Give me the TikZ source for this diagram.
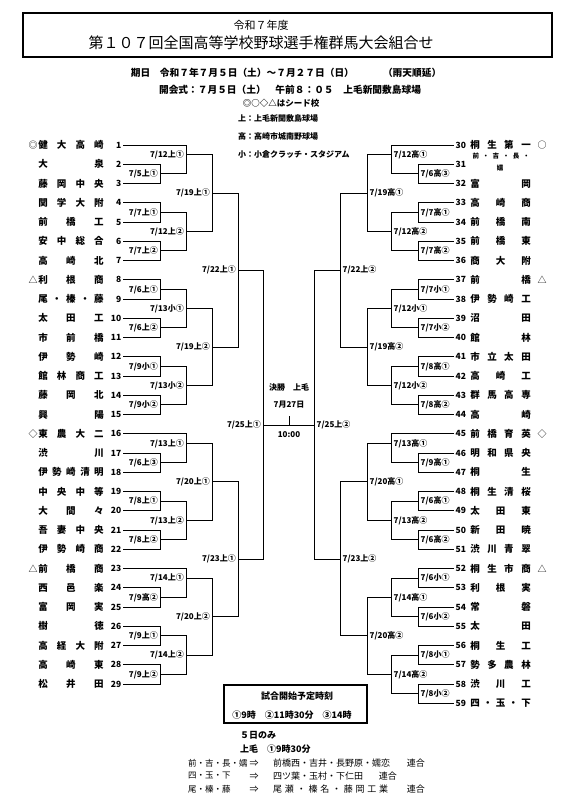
\documentclass[tikz,border=0pt]{standalone}
\usepackage{fontspec}
\setmainfont{Noto Sans CJK JP}
\newcommand\TL[2]{%
  \pgfmathsetmacro\yy{145+(#1-1)*19.25}%
  \node[num,anchor=east] (n#1) at (122,\yy) {#1};%
  \coordinate (e#1) at (123,\yy);%
  \node[tname] (t#1) at (71,\yy) {\makebox[65.5pt][s]{#2}};%
}
\newcommand\TR[2]{%
  \pgfmathsetmacro\yy{145+(#1-30)*19.25}%
  \node[num,anchor=west] (n#1) at (455,\yy) {#1};%
  \coordinate (e#1) at (454,\yy);%
  \node[tname] (t#1) at (500.5,\yy) {\makebox[60.5pt][s]{#2}};%
}
\newcommand\ML[6]{%
  \coordinate (#1) at (#2,#3);%
  \draw[br] (#4) -- (#4 -| #1) -- (#5 -| #1) -- (#5);%
  \node[lab,anchor=east] (#1l) at ([xshift=-1.5pt]#1) {#6};%
}
\newcommand\MR[6]{%
  \coordinate (#1) at (#2,#3);%
  \draw[br] (#4) -- (#4 -| #1) -- (#5 -| #1) -- (#5);%
  \node[lab,anchor=west] (#1l) at ([xshift=2pt]#1) {#6};%
}
\begin{document}
\begin{tikzpicture}[x=1pt,y=-1pt,
  br/.style={line width=0.95pt, line join=miter},
  lab/.style={font=\bfseries\fontsize{8}{9}\selectfont, inner sep=0.5pt},
  num/.style={font=\bfseries\fontsize{8.5}{9}\selectfont, inner sep=0.5pt},
  tname/.style={font=\bfseries\fontsize{9.5}{10}\selectfont, inner sep=0pt},
  seedm/.style={font=\fontsize{9}{10}\selectfont, inner sep=0pt},
  hdr/.style={font=\bfseries\fontsize{9.7}{11}\selectfont, inner sep=0pt},
  small/.style={font=\bfseries\fontsize{8}{9}\selectfont, inner sep=0pt},
  boxt/.style={font=\bfseries\fontsize{9}{10}\selectfont, inner sep=0pt},
  foot/.style={font=\fontsize{9}{10}\selectfont, inner sep=0pt},
  footl/.style={font=\fontsize{8.5}{10}\selectfont, inner sep=0pt}]
\useasboundingbox (0,0) rectangle (575,800);
% header
\node[draw, line width=1.3pt, minimum width=529pt, minimum height=44pt, inner sep=0pt] (hbox) at (287.5,35) {};
\node[font=\fontsize{11}{12}\selectfont, inner sep=0pt] (h1) at (261,25) {令和７年度};
\node[font=\fontsize{15}{16}\selectfont, inner sep=0pt] (h2) at (261,43) {第１０７回全国高等学校野球選手権群馬大会組合せ};
\node[hdr] (h3) at (286,73) {期日　令和７年７月５日（土）～７月２７日（日）　　　（雨天順延）};
\node[hdr] (h4) at (290,90) {開会式：７月５日（土）　午前８：０５　上毛新聞敷島球場};
\node[font=\bfseries\fontsize{8.5}{9}\selectfont, inner sep=0pt] (h5) at (281,103) {◎○◇△はシード校};
\node[small,anchor=west] (v1) at (238,118) {上：上毛新聞敷島球場};
\node[small,anchor=west] (v2) at (238,136) {高：高崎市城南野球場};
\node[small,anchor=west] (v3) at (238,154) {小：小倉クラッチ・スタジアム};
% left teams
\TL{1}{健\hfill 大\hfill 高\hfill 崎}
\TL{2}{大\hfill 泉}
\TL{3}{藤\hfill 岡\hfill 中\hfill 央}
\TL{4}{関\hfill 学\hfill 大\hfill 附}
\TL{5}{前\hfill 橋\hfill 工}
\TL{6}{安\hfill 中\hfill 総\hfill 合}
\TL{7}{高\hfill 崎\hfill 北}
\TL{8}{利\hfill 根\hfill 商}
\TL{9}{尾\hfill ・\hfill 榛\hfill ・\hfill 藤}
\TL{10}{太\hfill 田\hfill 工}
\TL{11}{市\hfill 前\hfill 橋}
\TL{12}{伊\hfill 勢\hfill 崎}
\TL{13}{館\hfill 林\hfill 商\hfill 工}
\TL{14}{藤\hfill 岡\hfill 北}
\TL{15}{興\hfill 陽}
\TL{16}{東\hfill 農\hfill 大\hfill 二}
\TL{17}{渋\hfill 川}
\TL{18}{伊\hfill 勢\hfill 崎\hfill 清\hfill 明}
\TL{19}{中\hfill 央\hfill 中\hfill 等}
\TL{20}{大\hfill 間\hfill 々}
\TL{21}{吾\hfill 妻\hfill 中\hfill 央}
\TL{22}{伊\hfill 勢\hfill 崎\hfill 商}
\TL{23}{前\hfill 橋\hfill 商}
\TL{24}{西\hfill 邑\hfill 楽}
\TL{25}{富\hfill 岡\hfill 実}
\TL{26}{樹\hfill 徳}
\TL{27}{高\hfill 経\hfill 大\hfill 附}
\TL{28}{高\hfill 崎\hfill 東}
\TL{29}{松\hfill 井\hfill 田}
\node[seedm] (s1) at (33,145) {◎};
\node[seedm] (s8) at (33,279.75) {△};
\node[seedm] (s16) at (33,433.75) {◇};
\node[seedm] (s23) at (33,568.5) {△};
% right teams
\TR{30}{桐\hfill 生\hfill 第\hfill 一}
\pgfmathsetmacro\yy{145+19.25}
\node[num,anchor=west] (n31) at (455,\yy) {31};
\coordinate (e31) at (454,\yy);
\node[font=\bfseries\fontsize{6.5}{7}\selectfont, inner sep=0pt] (t31a) at (501,156.5) {\makebox[57pt][s]{前\hfill ・\hfill 吉\hfill ・\hfill 長\hfill ・}};
\node[font=\bfseries\fontsize{6.5}{7}\selectfont, inner sep=0pt] (t31b) at (500,168) {嬬};
\TR{32}{富\hfill 岡}
\TR{33}{高\hfill 崎\hfill 商}
\TR{34}{前\hfill 橋\hfill 南}
\TR{35}{前\hfill 橋\hfill 東}
\TR{36}{商\hfill 大\hfill 附}
\TR{37}{前\hfill 橋}
\TR{38}{伊\hfill 勢\hfill 崎\hfill 工}
\TR{39}{沼\hfill 田}
\TR{40}{館\hfill 林}
\TR{41}{市\hfill 立\hfill 太\hfill 田}
\TR{42}{高\hfill 崎\hfill 工}
\TR{43}{群\hfill 馬\hfill 高\hfill 専}
\TR{44}{高\hfill 崎}
\TR{45}{前\hfill 橋\hfill 育\hfill 英}
\TR{46}{明\hfill 和\hfill 県\hfill 央}
\TR{47}{桐\hfill 生}
\TR{48}{桐\hfill 生\hfill 清\hfill 桜}
\TR{49}{太\hfill 田\hfill 東}
\TR{50}{新\hfill 田\hfill 暁}
\TR{51}{渋\hfill 川\hfill 青\hfill 翠}
\TR{52}{桐\hfill 生\hfill 市\hfill 商}
\TR{53}{利\hfill 根\hfill 実}
\TR{54}{常\hfill 磐}
\TR{55}{太\hfill 田}
\TR{56}{桐\hfill 生\hfill 工}
\TR{57}{勢\hfill 多\hfill 農\hfill 林}
\TR{58}{渋\hfill 川\hfill 工}
\TR{59}{四\hfill ・\hfill 玉\hfill ・\hfill 下}
\node[seedm] (s30) at (542,145) {○};
\node[seedm] (s37) at (542,279.75) {△};
\node[seedm] (s45) at (542,433.75) {◇};
\node[seedm] (s52) at (542,568.5) {△};
% left bracket
\ML{a1}{160}{173.9}{e2}{e3}{7/5上①}
\ML{a2}{160}{212.4}{e4}{e5}{7/7上①}
\ML{a3}{160}{250.9}{e6}{e7}{7/7上②}
\ML{a4}{160}{289.4}{e8}{e9}{7/6上①}
\ML{a5}{160}{327.9}{e10}{e11}{7/6上②}
\ML{a6}{160}{366.4}{e12}{e13}{7/9小①}
\ML{a7}{160}{404.9}{e14}{e15}{7/9小②}
\ML{a8}{160}{462.6}{e17}{e18}{7/6上③}
\ML{a9}{160}{501.1}{e19}{e20}{7/8上①}
\ML{a10}{160}{539.6}{e21}{e22}{7/8上②}
\ML{a11}{160}{597.4}{e24}{e25}{7/9高②}
\ML{a12}{160}{635.9}{e26}{e27}{7/9上①}
\ML{a13}{160}{674.4}{e28}{e29}{7/9上②}
\ML{b1}{186}{154.6}{e1}{a1}{7/12上①}
\ML{b2}{186}{231.6}{a2}{a3}{7/12上②}
\ML{b3}{186}{308.6}{a4}{a5}{7/13小①}
\ML{b4}{186}{385.6}{a6}{a7}{7/13小②}
\ML{b5}{186}{443.4}{e16}{a8}{7/13上①}
\ML{b6}{186}{520.4}{a9}{a10}{7/13上②}
\ML{b7}{186}{578.1}{e23}{a11}{7/14上①}
\ML{b8}{186}{655.1}{a12}{a13}{7/14上②}
\ML{c1}{212}{193.1}{b1}{b2}{7/19上①}
\ML{c2}{212}{347.1}{b3}{b4}{7/19上②}
\ML{c3}{212}{481.9}{b5}{b6}{7/20上①}
\ML{c4}{212}{616.6}{b7}{b8}{7/20上②}
\ML{d1}{238}{270.1}{c1}{c2}{7/22上①}
\ML{d2}{238}{559}{c3}{c4}{7/23上①}
\ML{f1}{263}{425}{d1}{d2}{7/25上①}
% right bracket
\MR{A1}{418}{173.9}{e31}{e32}{7/6高③}
\MR{A2}{418}{212.4}{e33}{e34}{7/7高①}
\MR{A3}{418}{250.9}{e35}{e36}{7/7高②}
\MR{A4}{418}{289.4}{e37}{e38}{7/7小①}
\MR{A5}{418}{327.9}{e39}{e40}{7/7小②}
\MR{A6}{418}{366.4}{e41}{e42}{7/8高①}
\MR{A7}{418}{404.9}{e43}{e44}{7/8高②}
\MR{A8}{418}{462.6}{e46}{e47}{7/9高①}
\MR{A9}{418}{501.1}{e48}{e49}{7/6高①}
\MR{A10}{418}{539.6}{e50}{e51}{7/6高②}
\MR{A11}{418}{578.1}{e52}{e53}{7/6小①}
\MR{A12}{418}{616.6}{e54}{e55}{7/6小②}
\MR{A13}{418}{655.1}{e56}{e57}{7/8小①}
\MR{A14}{418}{693.6}{e58}{e59}{7/8小②}
\MR{B1}{391}{154.6}{e30}{A1}{7/12高①}
\MR{B2}{391}{231.6}{A2}{A3}{7/12高②}
\MR{B3}{391}{308.6}{A4}{A5}{7/12小①}
\MR{B4}{391}{385.6}{A6}{A7}{7/12小②}
\MR{B5}{391}{443.4}{e45}{A8}{7/13高①}
\MR{B6}{391}{520.4}{A9}{A10}{7/13高②}
\MR{B7}{391}{597.4}{A11}{A12}{7/14高①}
\MR{B8}{391}{674.4}{A13}{A14}{7/14高②}
\MR{C1}{367}{193.1}{B1}{B2}{7/19高①}
\MR{C2}{367}{347.1}{B3}{B4}{7/19高②}
\MR{C3}{367}{481.9}{B5}{B6}{7/20高①}
\MR{C4}{367}{635.9}{B7}{B8}{7/20高②}
\MR{D1}{340}{270.1}{C1}{C2}{7/22上②}
\MR{D2}{340}{559}{C3}{C4}{7/23上②}
\MR{F1}{314}{425}{D1}{D2}{7/25上②}
% final
\draw[br] (f1) -- (F1);
\coordinate (tick) at (289,416);
\draw[br] (tick) -- (tick |- f1);
\node[lab] (fin1) at (289,387) {決勝　上毛};
\node[lab] (fin2) at (289,405) {7月27日};
\node[lab] (fin3) at (289,435) {10:00};
% time box
\node[draw, line width=1.3pt, minimum width=143pt, minimum height=38pt, inner sep=0pt] (tbox) at (295.5,704) {};
\node[boxt] (tb1) at (297,696) {試合開始予定時刻};
\node[boxt] (tb2) at (292,715) {①9時　②11時30分　③14時};
% footnotes
\node[boxt,anchor=west] (f5) at (240,735) {５日のみ};
\node[boxt,anchor=west] (f6) at (240,749) {上毛　①9時30分};
\node[footl,anchor=west] (g1) at (188,763) {前・吉・長・嬬};
\node[footl,anchor=west] (g2) at (188,776) {四・玉・下};
\node[footl,anchor=west] (g3) at (188,789) {尾・榛・藤};
\node[foot] (r1) at (254,763) {⇒};
\node[foot] (r2) at (254,776) {⇒};
\node[foot] (r3) at (254,789) {⇒};
\node[foot,anchor=west] (k1) at (273,763) {前橋西・吉井・長野原・嬬恋};
\node[foot,anchor=west] (k2) at (273,776) {四ツ葉・玉村・下仁田};
\node[foot,anchor=west] (k3) at (273,789) {\makebox[115pt][s]{尾\hfill 瀬\hfill ・\hfill 榛\hfill 名\hfill ・\hfill 藤\hfill 岡\hfill 工\hfill 業}};
\node[foot,anchor=east] (j1) at (425,763) {連合};
\node[foot,anchor=east] (j2) at (397,776) {連合};
\node[foot,anchor=east] (j3) at (425,789) {連合};
\end{tikzpicture}
\end{document}
